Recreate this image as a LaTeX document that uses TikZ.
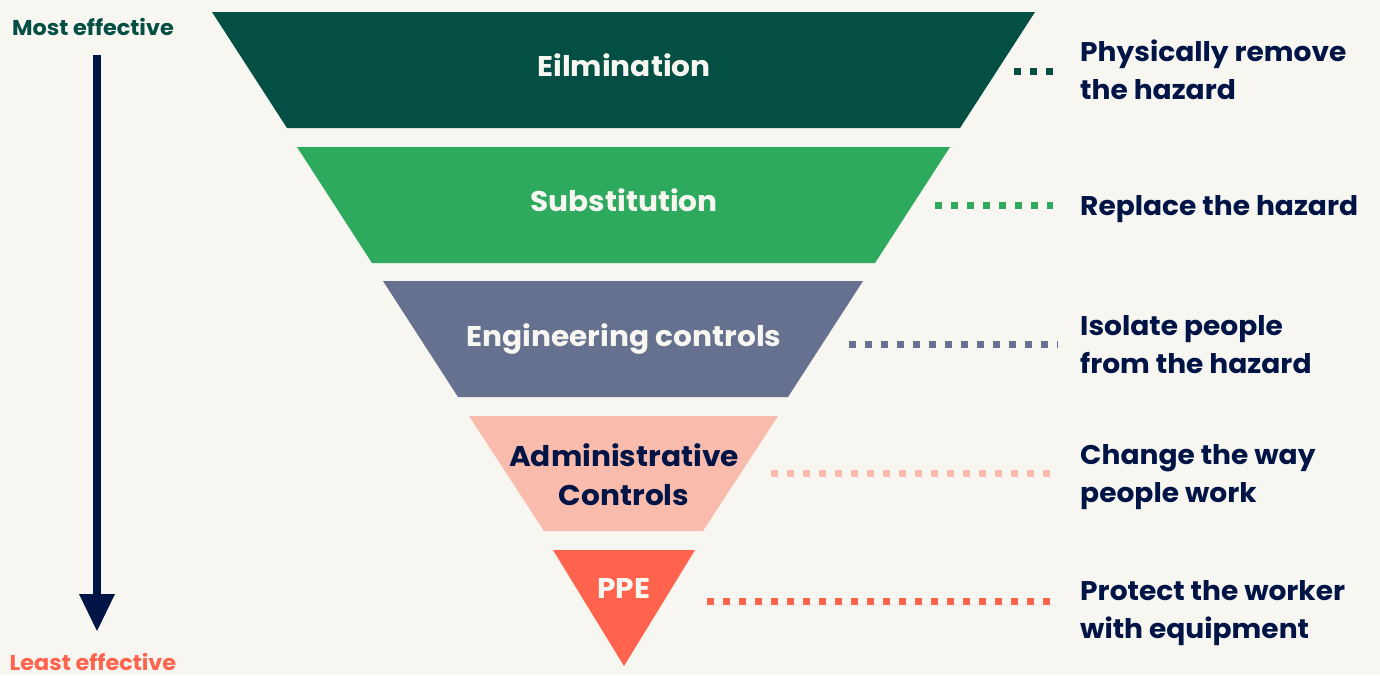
\documentclass[tikz,border=0pt]{standalone}
\usepackage{fontspec}
\setmainfont{Poppins}[FakeStretch=1.04]
\definecolor{bg}{HTML}{F7F6F0}
\definecolor{cA}{HTML}{034F43}
\definecolor{cB}{HTML}{2EAA5F}
\definecolor{cC}{HTML}{667190}
\definecolor{cD}{HTML}{F9BBAC}
\definecolor{cE}{HTML}{FF634D}
\definecolor{navy}{HTML}{001446}
\definecolor{lite}{HTML}{F7F6F0}
\begin{document}
\begin{tikzpicture}[x=1pt,y=-1pt,
  lbl/.style={font=\bfseries\fontsize{28.5}{39}\selectfont, align=center, inner sep=0pt, anchor=base},
  desc/.style={font=\bfseries\fontsize{27}{38}\selectfont, align=left, anchor=base west, text=navy, inner sep=0pt},
  side/.style={font=\bfseries\fontsize{21.5}{24}\selectfont, inner sep=0pt, anchor=base},
  dots/.style={line width=7pt, dash pattern=on 7pt off 9pt}]
\fill[bg] (0,0) rectangle (1380,675);
\useasboundingbox (0,0) rectangle (1380,675);
% bands
\fill[cA] (212,12) -- (1035,12) -- (960,128) -- (287,128) -- cycle;
\fill[cB] (297,147) -- (950,147) -- (875,263) -- (372,263) -- cycle;
\fill[cC] (383,281) -- (863,281) -- (788,397) -- (458,397) -- cycle;
\fill[cD] (469,416) -- (778,416) -- (703,531) -- (544,531) -- cycle;
\fill[cE] (553,550) -- (695,550) -- (624,666) -- cycle;
% labels in bands (base anchor = last line's baseline)
\node[lbl, text=lite] (t1) at (624,76) {Eilmination};
\node[lbl, text=lite] (t2) at (624,211) {Substitution};
\node[lbl, text=lite] (t3) at (624,346) {Engineering controls};
\node[lbl, text=navy] (t4) at (624,505) {Administrative\\Controls};
\node[lbl, text=lite] (t5) at (624,598) {PPE};
% descriptions
\node[desc] (d1) at (1080,99) {Physically remove\\the hazard};
\node[desc] (d2) at (1080,215) {Replace the hazard};
\node[desc] (d3) at (1080,373) {Isolate people\\from the hazard};
\node[desc] (d4) at (1080,502) {Change the way\\people work};
\node[desc] (d5) at (1080,638) {Protect the worker\\with equipment};
% dotted leaders
\coordinate (a1) at (1014,71); \coordinate (b1) at (1053,71);
\coordinate (a2) at (935,205); \coordinate (b2) at (1053,205);
\coordinate (a3) at (849,344); \coordinate (b3) at (1058,344);
\coordinate (a4) at (771,473); \coordinate (b4) at (1058,473);
\coordinate (a5) at (707,601); \coordinate (b5) at (1053,601);
\draw[dots, cA] (a1) -- (b1);
\draw[dots, cB] (a2) -- (b2);
\draw[dots, cC] (a3) -- (b3);
\draw[dots, cD] (a4) -- (b4);
\draw[dots, cE] (a5) -- (b5);
% side labels and arrow
\node[side, text=cA] (most) at (93,35) {Most effective};
\node[side, text=cE] (least) at (93,670) {Least effective};
\coordinate (s0) at (97,55);
\coordinate (s1) at (97,596);
\coordinate (tip) at (97,631);
\draw[navy, line width=8pt] (s0) -- (s1);
\fill[navy] (79,594) -- (115,594) -- (tip) -- cycle;
\end{tikzpicture}
\end{document}
